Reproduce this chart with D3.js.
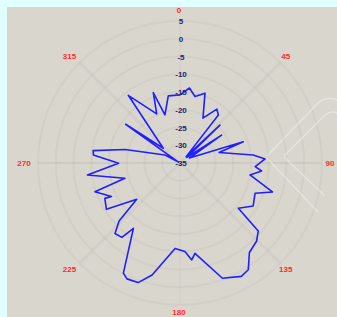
<!DOCTYPE html>
<html>
<head>
<meta charset="utf-8">
<script src="https://cdn.jsdelivr.net/npm/d3@7"></script>
<style>
  html, body { margin: 0; padding: 0; background: #e0ffff; }
  #chart { position: absolute; left: 0; top: 0; }
</style>
</head>
<body>
<div id="chart"></div>
<script>
// pattern, in path order (deg clockwise from top, dB)
const angles = [0, 7.2, 12.7, 19.7, 27.1, 34.4, 38.7, 44, 46.5, 51, 56.1, 62,
  71.4, 74.9, 83.7, 87.3, 92.8, 95.6, 99.7, 107.4, 112, 120.4, 127.8, 131,
  135.5, 142.2, 147.4, 151.6, 159.8, 170.6, 173.1, 176.8, 183.3, 194, 199.3,
  204.6, 207.2, 215.5, 218, 222.7, 226.4, 230, 237.8, 244.8, 243.9, 251.3,
  254.5, 262.6, 269.7, 275.3, 278.1, 283.8, 298, 300, 305.5, 311.4, 322.6,
  334.6, 339.2, 342.6, 350.1];
const levels = [-15.8, -13.7, -15.8, -14.1, -20.8, -16.6, -17.7, -32.5, -19.5, -32.5, -20.9, -32,
  -16.2, -23.6, -14.3, -11.0, -13.8, -11.9, -15.0, -7.7, -12.2, -11.1, -14.2, -5.8,
  -4.2, -3.1, 0.7, 1.3, -0.4, -9.2, -7.5, -10.0, -10.9, -2.5, 0.7,
  0.9, -0.1, -12.4, -8.4, -8.0, -11.3, -19.1, -10.5, -11.6, -13.5, -9.7,
  -18.9, -8.7, -17.7, -10.5, -10.3, -19.1, -30.2, -34.5, -16.2, -28.7, -11.0,
  -19.7, -13.8, -20.8, -15.8];

const dbTicks = [5, 0, -5, -10, -15, -20, -25, -30, -35];
const angleTicks = [0, 45, 90, 135, 180, 225, 270, 315];

const width = 337, height = 317;
const cx = 180, cy = 163;

const svg = d3.select("#chart")
  .append("svg")
  .attr("width", width)
  .attr("height", height);

// panel
svg.append("rect")
  .attr("x", 7).attr("y", 7)
  .attr("width", width - 7).attr("height", height - 7)
  .attr("fill", "#d9d6ce");

const g = svg.append("g").attr("transform", `translate(${cx},${cy})`);

// SCALES =======================================
const rScale = d3.scaleLinear().domain([-35, 5]).range([0, 142]);
const aScale = d3.scaleLinear().domain([0, 360]).range([0, 2 * Math.PI]);

// faint grid, barely there in the original
g.selectAll("circle.grid")
  .data(dbTicks.slice(0, -1))
  .join("circle")
  .attr("class", "grid")
  .attr("r", d => rScale(d))
  .attr("fill", "none")
  .attr("stroke", "#b5b2aa")
  .attr("stroke-opacity", 0.18)
  .attr("stroke-width", 2);

g.selectAll("line.spoke")
  .data(angleTicks)
  .join("line")
  .attr("class", "spoke")
  .attr("x2", d => Math.sin(aScale(d)) * rScale(5))
  .attr("y2", d => -Math.cos(aScale(d)) * rScale(5))
  .attr("stroke", "#a9a69e")
  .attr("stroke-opacity", d => d === 90 || d === 270 ? 0.45 : 0.15)
  .attr("stroke-width", d => d % 90 === 0 ? 1 : 3);

// watermark on the right
svg.append("path")
  .attr("d", "M267,156 L318,103 Q326,96 337,100 M267,158 L318,212")
  .attr("fill", "none").attr("stroke", "#ffffff").attr("stroke-opacity", 0.35).attr("stroke-width", 1.5);
svg.append("path")
  .attr("d", "M284,156 L323,117 Q330,110 337,113 M284,157 L325,196")
  .attr("fill", "none").attr("stroke", "#ffffff").attr("stroke-opacity", 0.35).attr("stroke-width", 1.5);

// PATTERN ======================================
const pts = angles.map((a, i) => ({ angle: a, level: levels[i] }));

const radial = d3.lineRadial()
  .angle(d => aScale(d.angle))
  .radius(d => rScale(Math.max(-35, d.level)))
  .curve(d3.curveLinearClosed);

g.append("path")
  .datum(pts)
  .attr("d", radial)
  .attr("fill", "none")
  .attr("stroke", "#1f1fff")
  .attr("stroke-width", 1.6)
  .attr("stroke-linejoin", "round");

// dB labels along 0 deg
g.selectAll("text.db")
  .data(dbTicks)
  .join("text")
  .attr("class", "db")
  .attr("x", 1)
  .attr("y", d => -rScale(d) + 0.5)
  .attr("text-anchor", "middle")
  .attr("dominant-baseline", "central")
  .style("font-family", "'Liberation Sans', Arial, sans-serif")
  .style("font-size", "8px")
  .style("font-weight", "bold")
  .attr("fill", "#23236e")
  .text(d => d);

// angle labels
const labelR = 151;
g.selectAll("text.ang")
  .data(angleTicks)
  .join("text")
  .attr("class", "ang")
  .attr("x", d => Math.sin(aScale(d)) * (labelR + (d > 180 ? 4 : 0)) - 1)
  .attr("y", d => -Math.cos(aScale(d)) * labelR - (d === 180 ? 2 : d === 0 ? 2 : 0))
  .attr("text-anchor", "middle")
  .attr("dominant-baseline", "central")
  .style("font-family", "'Liberation Sans', Arial, sans-serif")
  .style("font-size", "8px")
  .style("font-weight", "bold")
  .attr("fill", "#ff2a2a")
  .text(d => d);
</script>
</body>
</html>
